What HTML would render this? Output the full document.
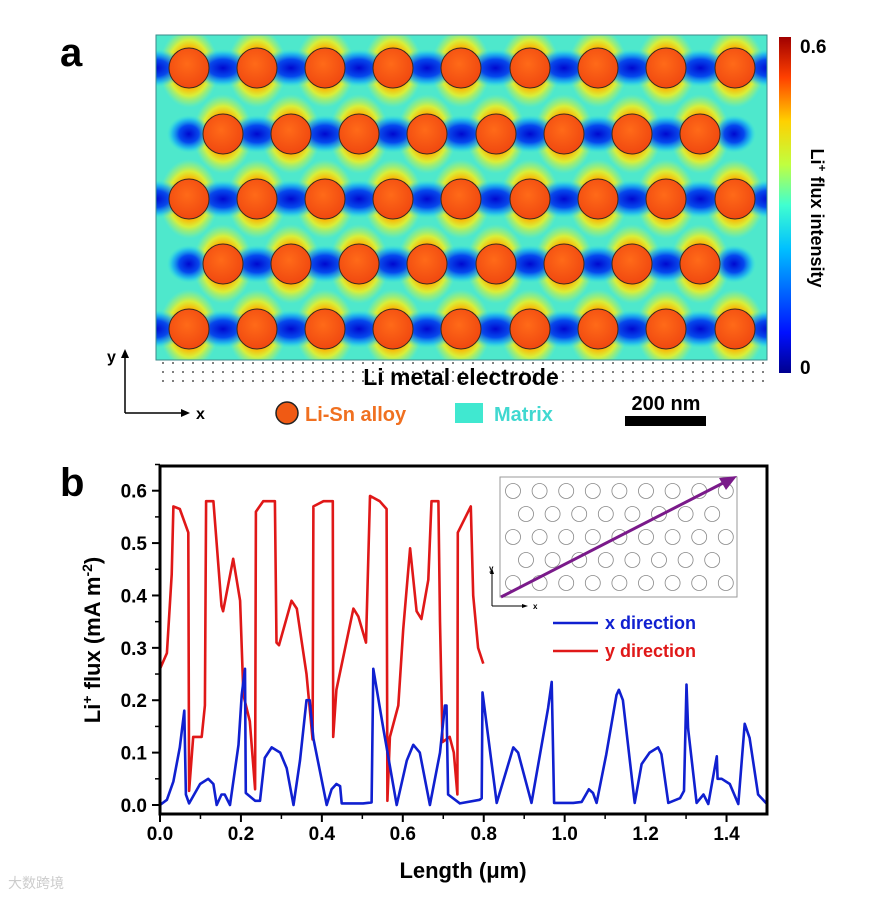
<!DOCTYPE html>
<html><head><meta charset="utf-8"><style>
html,body{margin:0;padding:0;background:#fff;}
svg{display:block;font-family:"Liberation Sans",Arial,sans-serif;}
</style></head><body>
<svg id="fig" width="891" height="898" viewBox="0 0 891 898" xmlns="http://www.w3.org/2000/svg">
<defs>
<radialGradient id="gHalo" cx="50%" cy="50%" r="50%">
<stop offset="0" stop-color="#ff7000" stop-opacity="1"/>
<stop offset="0.5" stop-color="#ffb000" stop-opacity="1"/>
<stop offset="0.7" stop-color="#f0f020" stop-opacity="0.85"/>
<stop offset="0.88" stop-color="#b0f060" stop-opacity="0.45"/>
<stop offset="1" stop-color="#80f0a0" stop-opacity="0"/>
</radialGradient>
<radialGradient id="gBlue" cx="50%" cy="50%" r="50%">
<stop offset="0" stop-color="#0008d0" stop-opacity="1"/>
<stop offset="0.45" stop-color="#0040f0" stop-opacity="0.95"/>
<stop offset="0.75" stop-color="#10a8f8" stop-opacity="0.7"/>
<stop offset="1" stop-color="#30e0e8" stop-opacity="0"/>
</radialGradient>
<radialGradient id="gDisk" cx="45%" cy="40%" r="60%">
<stop offset="0" stop-color="#ff6a18"/>
<stop offset="1" stop-color="#f04810"/>
</radialGradient>
<linearGradient id="gJet" x1="0" y1="1" x2="0" y2="0">
<stop offset="0" stop-color="#00008f"/>
<stop offset="0.12" stop-color="#0010ff"/>
<stop offset="0.37" stop-color="#00c0ff"/>
<stop offset="0.5" stop-color="#40ffd0"/>
<stop offset="0.62" stop-color="#c0ff40"/>
<stop offset="0.75" stop-color="#ffd000"/>
<stop offset="0.88" stop-color="#ff4000"/>
<stop offset="1" stop-color="#a00000"/>
</linearGradient>
<pattern id="pDots" width="10" height="9" patternUnits="userSpaceOnUse">
<circle cx="3" cy="3" r="0.9" fill="#222"/>
</pattern>
<clipPath id="clipMap"><rect x="156" y="35" width="611" height="325"/></clipPath>
<clipPath id="clipPlot"><rect x="160" y="466" width="607" height="348"/></clipPath>
</defs>

<!-- Panel a -->
<text x="60" y="66" font-size="40" font-weight="bold">a</text>
<g id="mapg" clip-path="url(#clipMap)">
<rect x="156" y="35" width="611" height="325" fill="#4ee8cc"/>
</g>
<rect x="156" y="35" width="611" height="325" fill="none" stroke="#3a8a8a" stroke-width="1"/>
<rect x="156" y="360" width="611" height="27" fill="url(#pDots)"/>
<text x="461" y="385" font-size="23" font-weight="bold" text-anchor="middle">Li metal electrode</text>

<rect x="779" y="37" width="12" height="336" fill="url(#gJet)"/>
<text x="800" y="53" font-size="19" font-weight="bold">0.6</text>
<text x="800" y="374" font-size="19" font-weight="bold">0</text>
<text transform="translate(811,218) rotate(90)" font-size="18" font-weight="bold" text-anchor="middle">Li<tspan dy="-7" font-size="12">+</tspan><tspan dy="7"> flux intensity</tspan></text>

<g>
<line x1="125" y1="413" x2="125" y2="356" stroke="#000" stroke-width="1.5"/>
<polygon points="121,358 129,358 125,349" fill="#000"/>
<line x1="125" y1="413" x2="183" y2="413" stroke="#000" stroke-width="1.5"/>
<polygon points="181,409 181,417 190,413" fill="#000"/>
<text x="107" y="362" font-size="16" font-weight="bold">y</text>
<text x="196" y="419" font-size="16" font-weight="bold">x</text>
</g>
<circle cx="287" cy="413" r="11" fill="#f05a14" stroke="#222" stroke-width="1.5"/>
<text x="305" y="421" font-size="20" font-weight="bold" fill="#f07020">Li-Sn alloy</text>
<rect x="455" y="403" width="28" height="20" fill="#40e8d0"/>
<text x="494" y="421" font-size="20" font-weight="bold" fill="#40d8d0">Matrix</text>
<text x="666" y="410" font-size="20" font-weight="bold" text-anchor="middle">200 nm</text>
<rect x="625" y="416" width="81" height="10" fill="#000"/>

<!-- Panel b -->
<text x="60" y="496" font-size="40" font-weight="bold">b</text>
<g id="axes"></g>
<g clip-path="url(#clipPlot)">
<path id="lineY" fill="none" stroke="#e01818" stroke-width="2.6" stroke-linejoin="round"/>
<path id="lineX" fill="none" stroke="#1020d0" stroke-width="2.6" stroke-linejoin="round"/>
</g>
<rect x="160" y="466" width="607" height="348" fill="none" stroke="#000" stroke-width="3"/>

<g id="inset">
<rect x="500" y="477" width="237" height="120" fill="#fff" stroke="#999" stroke-width="1"/>
</g>
<g>
<line x1="492" y1="606" x2="492" y2="571" stroke="#000" stroke-width="1"/>
<polygon points="490,574 494,574 492,568" fill="#000"/>
<line x1="492" y1="606" x2="524" y2="606" stroke="#000" stroke-width="1"/>
<polygon points="522,604 522,608 528,606" fill="#000"/>
<text x="489" y="571" font-size="8" font-weight="bold">y</text>
<text x="533" y="609" font-size="8" font-weight="bold">x</text>
</g>
<line x1="501" y1="597" x2="727" y2="481" stroke="#7a1a8a" stroke-width="3"/>
<polygon points="737,476 719,478 726,490" fill="#7a1a8a"/>

<g>
<line x1="553" y1="623" x2="598" y2="623" stroke="#1020d0" stroke-width="2.6"/>
<text x="605" y="629" font-size="18" font-weight="bold" fill="#1020d0">x direction</text>
<line x1="553" y1="651" x2="598" y2="651" stroke="#e01818" stroke-width="2.6"/>
<text x="605" y="657" font-size="18" font-weight="bold" fill="#e01818">y direction</text>
</g>
<text x="463" y="878" font-size="22" font-weight="bold" text-anchor="middle">Length (μm)</text>
<text transform="translate(100,640) rotate(-90)" font-size="22" font-weight="bold" text-anchor="middle">Li<tspan dy="-8" font-size="14">+</tspan><tspan dy="8"> flux (mA m</tspan><tspan dy="-8" font-size="14">-2</tspan><tspan dy="8">)</tspan></text>
<text x="8" y="888" font-size="14" fill="#ccc">大数跨境</text>
</svg>
<script>
const xTickLabels = ["0.0","0.2","0.4","0.6","0.8","1.0","1.2","1.4"];
const yTickLabels = ["0.0","0.1","0.2","0.3","0.4","0.5","0.6"];
const yLen = [0,0.017,0.029,0.033,0.049,0.07,0.072,0.082,0.103,0.111,0.114,0.132,0.152,0.156,0.181,0.198,0.206,0.222,0.235,0.237,0.255,0.284,0.288,0.294,0.325,0.338,0.362,0.377,0.379,0.404,0.427,0.428,0.436,0.478,0.49,0.509,0.519,0.543,0.56,0.562,0.568,0.589,0.601,0.618,0.634,0.646,0.663,0.671,0.688,0.692,0.698,0.716,0.726,0.735,0.736,0.768,0.774,0.786,0.799];
const yFlux = [0.26,0.29,0.44,0.57,0.565,0.52,0.027,0.13,0.13,0.19,0.58,0.58,0.38,0.37,0.47,0.39,0.21,0.16,0.03,0.56,0.58,0.58,0.31,0.305,0.39,0.375,0.25,0.125,0.57,0.58,0.58,0.13,0.22,0.375,0.36,0.31,0.59,0.58,0.565,0.008,0.13,0.19,0.335,0.49,0.37,0.355,0.43,0.58,0.58,0.35,0.12,0.13,0.1,0.02,0.52,0.57,0.4,0.3,0.27];
const xLen = [0,0.017,0.033,0.049,0.06,0.064,0.072,0.099,0.119,0.132,0.14,0.152,0.16,0.173,0.194,0.202,0.21,0.212,0.235,0.247,0.259,0.276,0.297,0.313,0.33,0.346,0.362,0.37,0.379,0.412,0.424,0.436,0.445,0.449,0.502,0.523,0.527,0.552,0.585,0.61,0.626,0.642,0.667,0.692,0.704,0.708,0.712,0.741,0.79,0.795,0.797,0.832,0.873,0.885,0.918,0.959,0.968,0.974,1.021,1.042,1.06,1.07,1.079,1.103,1.128,1.134,1.144,1.173,1.19,1.21,1.231,1.239,1.256,1.285,1.295,1.301,1.305,1.326,1.343,1.355,1.376,1.378,1.388,1.408,1.429,1.445,1.457,1.478,1.5];
const xFlux = [0,0.01,0.045,0.11,0.18,0.02,0.003,0.04,0.05,0.04,0,0.02,0.02,0,0.115,0.21,0.26,0.023,0.008,0.008,0.09,0.11,0.1,0.07,0,0.085,0.2,0.2,0.127,0,0.03,0.04,0.036,0.003,0.003,0.005,0.26,0.145,0,0.085,0.115,0.1,0,0.1,0.19,0.19,0.02,0.003,0.01,0.013,0.215,0.004,0.11,0.1,0.004,0.185,0.235,0.004,0.004,0.006,0.03,0.023,0.004,0.097,0.21,0.22,0.2,0.004,0.078,0.1,0.11,0.097,0.004,0.013,0.027,0.23,0.146,0.004,0.02,0.002,0.093,0.05,0.05,0.04,0.002,0.155,0.128,0.02,0.002];

const X0=160, X1=767, Y0=805, Y1=490.7;
const sx = v => X0 + v/1.5*(X1-X0);
const sy = v => Y0 - v/0.6*(Y0-Y1);
const NS="http://www.w3.org/2000/svg";
function mk(tag, attrs, parent){const e=document.createElementNS(NS,tag);for(const k in attrs)e.setAttribute(k,attrs[k]);parent.appendChild(e);return e;}

const axes=document.getElementById('axes');
xTickLabels.forEach((t,i)=>{
  const v=parseFloat(t), x=sx(v);
  const tk=mk('line',{x1:x,y1:814,x2:x,y2:822,stroke:'#000','stroke-width':2},axes);
  
  
  const tx=mk('text',{x:x,y:840,'font-size':19,'font-weight':'bold','text-anchor':'middle'},axes);
  tx.textContent=t;
  
  
  if(i<xTickLabels.length-1){
    const mx=sx(v+0.1);
    const m=mk('line',{x1:mx,y1:814,x2:mx,y2:819,stroke:'#000','stroke-width':1.5},axes);
    
    
  }
});
yTickLabels.forEach((t,i)=>{
  const v=parseFloat(t), y=sy(v);
  const tk=mk('line',{x1:152,y1:y,x2:160,y2:y,stroke:'#000','stroke-width':2},axes);
  
  
  const tx=mk('text',{x:147,y:y+7,'font-size':19,'font-weight':'bold','text-anchor':'end'},axes);
  tx.textContent=t;
  
  
  const my=sy(v+0.05);
  const m=mk('line',{x1:155,y1:my,x2:160,y2:my,stroke:'#000','stroke-width':1.5},axes);
  
  
});
function pathOf(L,F){return L.map((l,i)=>(i?'L':'M')+sx(l).toFixed(1)+','+sy(F[i]).toFixed(1)).join(' ');}
document.getElementById('lineY').setAttribute('d',pathOf(yLen,yFlux));
document.getElementById('lineX').setAttribute('d',pathOf(xLen,xFlux));

// heatmap
const mg=document.getElementById('mapg');
const rows=[68,134,199,264,329];
const odd=[189,257,325,393,461,530,598,666,735];
const even=[223,291,359,427,496,564,632,700];
const centers=[];
rows.forEach((y,r)=>{(r%2===0?odd:even).forEach(x=>centers.push([x,y,r]));});
centers.forEach(([x,y])=>{
  const h=mk('ellipse',{cx:x,cy:y,rx:30,ry:40,fill:'url(#gHalo)'},mg);
  
  
});
rows.forEach((y,r)=>{
  const cols=(r%2===0?odd:even);
  const pts=[cols[0]-68.25].concat(cols).concat([cols[cols.length-1]+68.25]);
  for(let i=0;i<pts.length-1;i++){
    const edge=(i===0||i===pts.length-2);
    const b=mk('ellipse',{cx:(pts[i]+pts[i+1])/2,cy:y,rx:(r%2===0?32:(edge?22:30)),ry:19,fill:'url(#gBlue)'},mg);
    
    
  }
});
centers.forEach(([x,y])=>{
  const c=mk('circle',{cx:x,cy:y,r:20,fill:'url(#gDisk)',stroke:'#3a2a20','stroke-width':1},mg);
  
  
});
// inset circles
const ins=document.getElementById('inset');
const iy=[491,514,537,560,583];
rows.forEach((_,r)=>{
  const n=r%2===0?9:8;
  for(let i=0;i<n;i++){
    const x=r%2===0?513+i*26.6:526+i*26.6;
    const c=mk('circle',{cx:x,cy:iy[r],r:7.5,fill:'none',stroke:'#888','stroke-width':0.8},ins);
    
    
  }
});
</script>
</body></html>
